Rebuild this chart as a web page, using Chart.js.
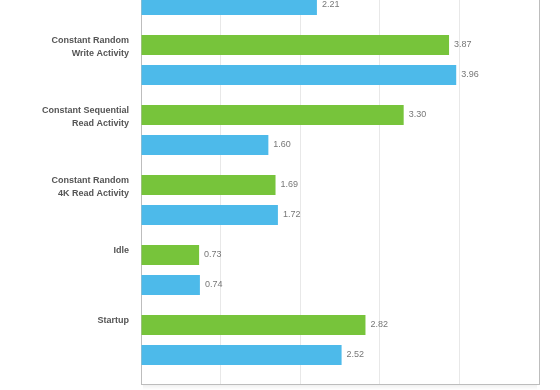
<!DOCTYPE html>
<html>
<head>
<meta charset="utf-8">
<script src="https://cdn.jsdelivr.net/npm/chart.js@4/dist/chart.umd.min.js"></script>
<style>
  html, body { margin: 0; padding: 0; background: #fff; overflow: hidden; width: 560px; height: 390px; }
  #c { position: absolute; left: 0; top: -45px; }
</style>
</head>
<body>
<canvas id="c" width="560" height="440" style="width:560px;height:440px;"></canvas>
<script>
// Categories (first one is cut off at the top of the reference picture)
const categories = [
  ['Constant Sequential', 'Write Activity'],
  ['Constant Random', 'Write Activity'],
  ['Constant Sequential', 'Read Activity'],
  ['Constant Random', '4K Read Activity'],
  ['Idle'],
  ['Startup']
];
const greenValues = [null, 3.87, 3.30, 1.69, 0.73, 2.82];
const blueValues  = [2.21, 3.96, 1.60, 1.72, 0.74, 2.52];
const xTicks = [0, 1, 2, 3, 4, 5];

const GREEN = '#77c43b';
const BLUE = '#4dbaea';

const valueLabels = {
  id: 'valueLabels',
  afterDatasetsDraw(chart) {
    const ctx = chart.ctx;
    ctx.save();
    ctx.font = '9px "Liberation Sans", Arial, sans-serif';
    ctx.fillStyle = '#777';
    ctx.textBaseline = 'middle';
    ctx.textAlign = 'left';
    chart.data.datasets.forEach((ds, di) => {
      const meta = chart.getDatasetMeta(di);
      meta.data.forEach((el, i) => {
        const p = ds.data[i];
        if (!p || p.x == null) return;
        ctx.fillText(p.x.toFixed(2), el.x + 5, el.y);
      });
    });
    ctx.restore();
  }
};

const plotShadow = {
  id: 'plotShadow',
  beforeDraw(chart) {
    const a = chart.chartArea, ctx = chart.ctx;
    ctx.save();
    const g = ctx.createLinearGradient(0, a.bottom, 0, a.bottom + 6);
    g.addColorStop(0, 'rgba(0,0,0,0.07)');
    g.addColorStop(1, 'rgba(0,0,0,0)');
    ctx.fillStyle = g;
    ctx.fillRect(a.left + 2, a.bottom, a.right - a.left - 4, 6);
    ctx.restore();
  }
};

const toPoints = arr => arr.map((v, i) => ({ x: v, y: i })).filter(p => p.x != null);

new Chart(document.getElementById('c'), {
  type: 'bar',
  data: {
    datasets: [
      { data: toPoints(greenValues), backgroundColor: GREEN, borderWidth: 0,
        categoryPercentage: 0.857, barPercentage: 0.667 },
      { data: toPoints(blueValues), backgroundColor: BLUE, borderWidth: 0,
        categoryPercentage: 0.857, barPercentage: 0.667 }
    ]
  },
  options: {
    indexAxis: 'y',
    responsive: false,
    maintainAspectRatio: false,
    devicePixelRatio: 1,
    animation: false,
    layout: { padding: { left: 0, right: 21, top: 0, bottom: 11 } },
    plugins: { legend: { display: false }, tooltip: { enabled: false } },
    scales: {
      x: {
        type: 'linear',
        min: xTicks[0],
        max: xTicks[xTicks.length - 1],
        afterBuildTicks: s => { s.ticks = xTicks.map(v => ({ value: v })); },
        afterFit: s => { s.height = 0; s.paddingLeft = 0; s.paddingRight = 0; },
        ticks: { display: false },
        grid: {
          drawTicks: false,
          lineWidth: 1,
          color: c => (c.tick && (c.tick.value === 0 || c.tick.value === xTicks[xTicks.length - 1])) ? '#bdbdbd' : '#e8e8e8'
        },
        border: { display: true, color: '#bdbdbd', width: 1 }
      },
      y: {
        type: 'linear',
        reverse: true,
        offset: false,
        min: -0.5,
        max: 5.6286,
        afterBuildTicks: s => { s.ticks = categories.map((_, i) => ({ value: i })); },
        afterFit: s => { s.width = 141; s.paddingTop = 0; s.paddingBottom = 0; },
        grid: { display: false, drawTicks: false, offset: false },
        border: { display: true, color: '#bdbdbd', width: 1 },
        ticks: {
          padding: 12,
          labelOffset: -12.75,
          color: '#555',
          font: { family: '"Liberation Sans", Arial, sans-serif', size: 9, weight: 'bold', lineHeight: 1.39 },
          callback: v => {
            const c = categories[v];
            if (!c) return '';
            return c.length === 1 ? [c[0], ''] : c;
          }
        }
      }
    }
  },
  plugins: [valueLabels, plotShadow]
});
</script>
</body>
</html>
